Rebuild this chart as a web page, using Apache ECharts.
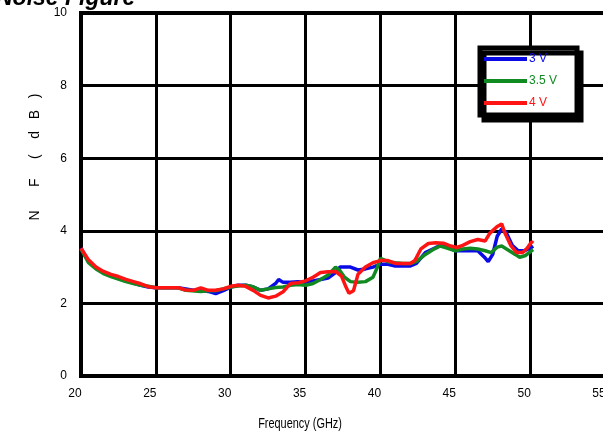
<!DOCTYPE html>
<html><head><meta charset="utf-8">
<script src="https://cdn.jsdelivr.net/npm/echarts@6/dist/echarts.min.js"></script>
<style>html,body{margin:0;padding:0;background:#fff}#c{width:603px;height:440px}</style>
</head><body><div id="c"></div>
<script>
const seriesNames = ['3 V', '3.5 V', '4 V'];
const seriesColors = ['#0a0ae6', '#128a22', '#ff1414'];
const xTicks = [20, 25, 30, 35, 40, 45, 50, 55];
const yTicks = [0, 2, 4, 6, 8, 10];

const freq3V = [20,20.5,21,21.5,22,22.5,23,23.5,24,24.5,25,26,26.5,27,27.5,28,28.5,29,29.5,30,30.5,31,31.5,32,32.5,33,33.2,33.5,34,34.5,35,35.5,36,36.5,37,37.3,38,38.5,39,39.5,40,40.5,41,41.5,42,42.4,43,43.5,44,44.5,45,45.5,46,46.5,47,47.2,47.5,47.8,48.1,48.4,48.8,49.2,49.6,50,50.2];
const nf3V   = [3.52,3.15,2.98,2.85,2.77,2.7,2.62,2.56,2.5,2.45,2.43,2.43,2.43,2.4,2.36,2.37,2.33,2.27,2.35,2.45,2.5,2.5,2.45,2.36,2.4,2.55,2.66,2.58,2.58,2.6,2.58,2.62,2.66,2.7,2.85,3.0,3.0,2.92,2.95,3.0,3.08,3.08,3.03,3.03,3.03,3.1,3.4,3.5,3.6,3.55,3.45,3.45,3.45,3.45,3.25,3.15,3.35,3.85,4.05,3.95,3.6,3.45,3.45,3.52,3.58];

const freq35V = [20,20.5,21,21.5,22,22.5,23,23.5,24,24.5,25,26,26.5,27,28,28.5,29,29.5,30,30.5,31,31.5,32,32.5,33,33.5,34,34.5,35,35.5,36,36.5,37,37.3,37.6,38,38.5,39,39.5,39.8,40,40.5,41,41.5,42,42.4,43,43.5,44,44.5,45,45.5,46,46.5,47,47.4,47.8,48.1,48.5,49,49.3,49.7,50,50.2];
const nf35V   = [3.5,3.12,2.95,2.82,2.74,2.67,2.6,2.55,2.5,2.47,2.43,2.43,2.43,2.36,2.33,2.35,2.35,2.4,2.45,2.48,2.5,2.46,2.36,2.4,2.44,2.45,2.5,2.52,2.5,2.55,2.66,2.78,3.0,2.9,2.72,2.6,2.58,2.6,2.72,3.0,3.24,3.15,3.12,3.1,3.1,3.15,3.35,3.48,3.58,3.52,3.45,3.5,3.52,3.5,3.45,3.4,3.55,3.58,3.48,3.35,3.27,3.32,3.42,3.48];

const freq4V = [20,20.5,21,21.5,22,22.5,23,23.5,24,24.5,25,25.5,26,26.5,27,27.5,28,28.5,29,29.5,30,30.5,31,31.5,32,32.5,33,33.5,34,34.5,35,35.5,36,36.5,37,37.4,37.7,37.9,38.2,38.5,39,39.5,40,40.5,41,41.5,42,42.3,42.7,43.2,43.7,44.2,44.7,45.1,45.5,46,46.5,47,47.3,47.8,48.1,48.3,48.7,49.1,49.5,49.8,50.1,50.2];
const nf4V   = [3.52,3.2,3.0,2.88,2.8,2.74,2.66,2.6,2.54,2.46,2.43,2.43,2.43,2.43,2.37,2.36,2.43,2.36,2.36,2.4,2.47,2.5,2.47,2.36,2.22,2.15,2.2,2.32,2.55,2.57,2.62,2.72,2.85,2.87,2.88,2.75,2.45,2.28,2.35,2.8,3.0,3.12,3.18,3.18,3.1,3.1,3.1,3.18,3.5,3.65,3.67,3.66,3.58,3.54,3.6,3.7,3.76,3.72,3.93,4.12,4.19,3.95,3.6,3.4,3.4,3.52,3.7,3.66];

const zip = (a, b) => a.map((x, i) => [x, b[i]]);
const dataSets = [zip(freq3V, nf3V), zip(freq35V, nf35V), zip(freq4V, nf4V)];

const narrow = '"Liberation Sans Narrow", "Arial Narrow", "Liberation Sans", Arial, sans-serif';
const chart = echarts.init(document.getElementById('c'), null, {renderer: 'canvas'});
chart.setOption({
  animation: false,
  backgroundColor: '#ffffff',
  grid: {left: 81, top: 13, right: -2, bottom: 64, outerBoundsMode: 'none', containLabel: false, show: true, borderColor: '#000', borderWidth: 4, backgroundColor: 'transparent'},
  xAxis: {
    type: 'value', min: xTicks[0], max: xTicks[xTicks.length - 1], interval: 5,
    axisLine: {show: true, lineStyle: {color: '#000', width: 4}},
    axisTick: {show: false},
    axisLabel: {color: '#000', fontFamily: narrow, fontSize: 12, margin: 12, padding: [0, 12, 0, 0], showMaxLabel: true, hideOverlap: false},
    splitLine: {show: true, lineStyle: {color: '#000', width: 3}}
  },
  yAxis: {
    type: 'value', min: yTicks[0], max: yTicks[yTicks.length - 1], interval: 2,
    axisLine: {show: true, lineStyle: {color: '#000', width: 4}},
    axisTick: {show: false},
    axisLabel: {color: '#000', fontFamily: narrow, fontSize: 12, margin: 14},
    splitLine: {show: true, lineStyle: {color: '#000', width: 3}}
  },
  legend: {
    orient: 'vertical', left: 480, top: 48,
    backgroundColor: '#fff', borderColor: '#000', borderWidth: 5,
    shadowColor: '#000', shadowBlur: 0, shadowOffsetX: 4, shadowOffsetY: 5,
    padding: [5, 20, 6, 4],
    itemWidth: 43, itemHeight: 4, itemGap: 10, icon: 'rect',
    textStyle: {fontFamily: narrow, fontSize: 12, padding: [0, 0, 0, -3]},
    data: seriesNames.map((n, i) => ({name: n, textStyle: {color: seriesColors[i]}}))
  },
  graphic: [
    {type: 'text', left: -4, top: -13, style: {text: 'Noise Figure', font: 'italic bold 23px "Liberation Sans", Arial, sans-serif', fill: '#000'}},
    {type: 'text', x: 300, y: 424, scaleX: 0.78, style: {text: 'Frequency (GHz)', font: '14px "Liberation Sans", Arial, sans-serif', fill: '#000', align: 'center', verticalAlign: 'middle'}},
    {type: 'text', x: 35, y: 157, rotation: Math.PI / 2, style: {text: 'N      F     (    d   B   )', font: '14px "Liberation Sans", Arial, sans-serif', fill: '#000', align: 'center', verticalAlign: 'middle'}}
  ],
  series: seriesNames.map((n, i) => ({
    name: n, type: 'line', data: dataSets[i], showSymbol: false, symbol: 'none',
    lineStyle: {color: seriesColors[i], width: 3.5}, itemStyle: {color: seriesColors[i]}, z: 3 + i
  }))
});
</script></body></html>
